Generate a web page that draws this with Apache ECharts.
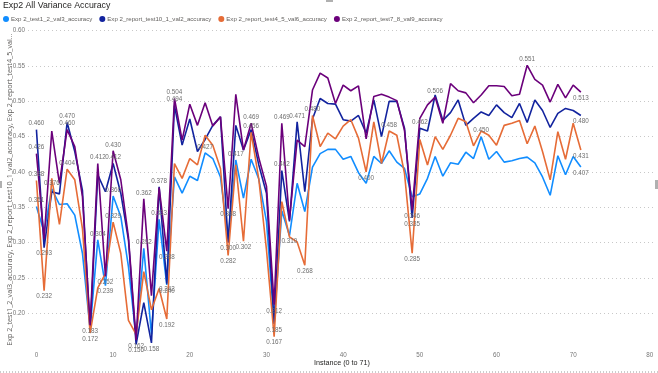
<!DOCTYPE html>
<html><head><meta charset="utf-8">
<script src="https://cdn.jsdelivr.net/npm/echarts@6/dist/echarts.min.js"></script>
<style>html,body{margin:0;padding:0;background:#fff;}#c{width:658px;height:373px;}</style>
</head><body><div id="c"></div>
<script>
const instances = [0,1,2,3,4,5,6,7,8,9,10,11,12,13,14,15,16,17,18,19,20,21,22,23,24,25,26,27,28,29,30,31,32,33,34,35,36,37,38,39,40,41,42,43,44,45,46,47,48,49,50,51,52,53,54,55,56,57,58,59,60,61,62,63,64,65,66,67,68,69,70,71];
const xTicks = [0,10,20,30,40,50,60,70,80];
const seriesNames = ['Exp 2_test1_2_val3_accuracy','Exp 2_report_test10_1_val2_accuracy','Exp 2_report_test4_5_val6_accuracy','Exp 2_report_test7_8_val9_accuracy'];
const test1_2 = [0.351,0.315,0.376,0.354,0.355,0.339,0.285,0.178,0.304,0.239,0.366,0.337,0.266,0.165,0.292,0.170,0.333,0.240,0.393,0.370,0.394,0.388,0.427,0.419,0.393,0.305,0.417,0.363,0.418,0.390,0.330,0.185,0.345,0.310,0.384,0.344,0.407,0.426,0.432,0.432,0.418,0.422,0.399,0.384,0.422,0.412,0.430,0.414,0.405,0.365,0.369,0.391,0.422,0.394,0.413,0.411,0.428,0.419,0.450,0.418,0.429,0.414,0.416,0.419,0.421,0.413,0.393,0.367,0.423,0.396,0.422,0.407];
const test10_1 = [0.460,0.293,0.372,0.369,0.470,0.429,0.374,0.175,0.396,0.372,0.412,0.370,0.304,0.156,0.215,0.158,0.379,0.242,0.494,0.438,0.475,0.429,0.446,0.466,0.478,0.300,0.466,0.431,0.460,0.410,0.370,0.185,0.402,0.330,0.471,0.372,0.475,0.504,0.497,0.496,0.474,0.472,0.480,0.455,0.502,0.450,0.500,0.500,0.462,0.335,0.462,0.458,0.509,0.473,0.484,0.502,0.466,0.476,0.485,0.480,0.495,0.484,0.477,0.497,0.470,0.502,0.487,0.463,0.483,0.490,0.487,0.480];
const test4_5 = [0.388,0.232,0.391,0.326,0.404,0.389,0.320,0.172,0.236,0.256,0.329,0.285,0.190,0.170,0.259,0.205,0.235,0.192,0.412,0.391,0.419,0.410,0.452,0.438,0.405,0.282,0.410,0.302,0.456,0.390,0.290,0.167,0.358,0.308,0.301,0.268,0.480,0.436,0.455,0.447,0.465,0.474,0.448,0.400,0.471,0.412,0.458,0.452,0.398,0.285,0.446,0.410,0.450,0.432,0.452,0.476,0.471,0.437,0.458,0.452,0.438,0.466,0.469,0.473,0.440,0.465,0.429,0.389,0.457,0.418,0.469,0.431];
const test7_8 = [0.426,0.305,0.458,0.384,0.460,0.436,0.365,0.183,0.412,0.252,0.430,0.389,0.308,0.162,0.362,0.225,0.378,0.288,0.504,0.445,0.496,0.466,0.498,0.465,0.478,0.348,0.510,0.431,0.469,0.420,0.380,0.212,0.469,0.332,0.445,0.436,0.516,0.540,0.533,0.497,0.523,0.515,0.522,0.447,0.507,0.510,0.506,0.501,0.459,0.346,0.476,0.495,0.506,0.469,0.525,0.515,0.512,0.498,0.509,0.522,0.522,0.521,0.508,0.510,0.551,0.531,0.523,0.499,0.524,0.505,0.523,0.513];
const labeled1_2 = [0,2,8,9,10,14,16,17,22,26,31,33,58,71];
const labeled10_1 = [0,1,4,10,13,15,17,18,25,32,34,49,50,71];
const labeled4_5 = [0,1,4,7,10,17,25,27,28,31,35,36,43,46,49,71];
const labeled7_8 = [0,4,7,8,9,10,13,14,16,17,18,25,28,31,32,49,52,64,71];
const colors = ['#118DFF','#12239E','#E66C37','#6B007B'];

function build(vals, lab) {
  return vals.map((v, i) => {
    const item = { value: [instances[i], v] };
    if (lab.includes(i)) {
      const prev = i > 0 ? vals[i-1] : Infinity, next = i < vals.length-1 ? vals[i+1] : Infinity;
      const isMin = v < prev && v < next;
      item.label = { show: true, position: isMin ? 'bottom' : 'top' };
    }
    return item;
  });
}
const all = [test1_2, test10_1, test4_5, test7_8];
const labs = [labeled1_2, labeled10_1, labeled4_5, labeled7_8];
const FONT = 'Liberation Sans';
const chart = echarts.init(document.getElementById('c'));
chart.setOption({
  animation: false,
  color: colors,
  textStyle: { fontFamily: FONT },
  title: { text: 'Exp2 All Variance Accuracy', left: 3, top: 1, padding: 0, textStyle: { fontSize: 8.8, fontWeight: 'normal', color: '#252423', fontFamily: FONT } },
  legend: {
    left: 1, top: 14, padding: [2, 2], icon: 'circle', itemWidth: 6, itemHeight: 6, itemGap: 7,
    textStyle: { fontSize: 6.1, color: '#605E5C', fontFamily: FONT, padding: [0,0,0,-3] },
    data: seriesNames
  },
  grid: { left: 28, right: 2, top: 30.7, bottom: 24.4, containLabel: false, outerBoundsMode: 'none' },
  xAxis: {
    type: 'value', min: -1.1, max: 80.8,
    name: 'Instance (0 to 71)', nameLocation: 'middle', nameGap: 11, nameMoveOverlap: false,
    nameTextStyle: { fontSize: 7.2, color: '#252423', fontFamily: FONT },
    axisLine: { show: false }, axisTick: { show: false }, splitLine: { show: false },
    axisLabel: { customValues: xTicks, fontSize: 6.3, color: '#777', margin: 4, fontFamily: FONT }
  },
  yAxis: {
    type: 'value', min: 0.15, max: 0.60, interval: 0.05,
    name: 'Exp 2_test1_2_val3_accuracy, Exp 2_report_test10_1_val2_accuracy, Exp 2_report_test4_5_val...',
    nameLocation: 'middle', nameGap: 15, nameRotate: 90, nameMoveOverlap: false,
    nameTextStyle: { fontSize: 7.2, color: '#605E5C', fontFamily: 'Open Sans' },
    axisLine: { show: false }, axisTick: { show: false },
    axisLabel: { fontSize: 6.3, color: '#777', margin: 3, showMinLabel: false, formatter: v => v.toFixed(2), fontFamily: FONT },
    splitLine: { showMinLine: false, lineStyle: { color: '#c8c8c8', type: [1, 3], width: 1 } }
  },
  series: all.map((vals, k) => ({
    name: seriesNames[k], type: 'line', showSymbol: true, symbol: 'circle', symbolSize: 0,
    itemStyle: { color: colors[k] },
    lineStyle: { width: 1.6, color: colors[k] },
    label: { formatter: p => p.value[1].toFixed(3), fontSize: 6.3, color: '#6f6f6f', distance: 3, fontFamily: FONT },
    data: build(vals, labs[k])
  })),
  graphic: [
    { type: 'rect', shape: { x: 326, y: 0, width: 7, height: 2 }, style: { fill: '#b0b0b0' } },
    { type: 'rect', shape: { x: 0, y: 181, width: 2, height: 7 }, style: { fill: '#b0b0b0' } },
    { type: 'rect', shape: { x: 655, y: 180, width: 3, height: 9 }, style: { fill: '#b0b0b0' } },
    { type: 'line', shape: { x1: 0, y1: 372, x2: 658, y2: 372 }, style: { stroke: '#999', lineDash: [1, 2], lineWidth: 1 } }
  ]
});
</script>
</body></html>
